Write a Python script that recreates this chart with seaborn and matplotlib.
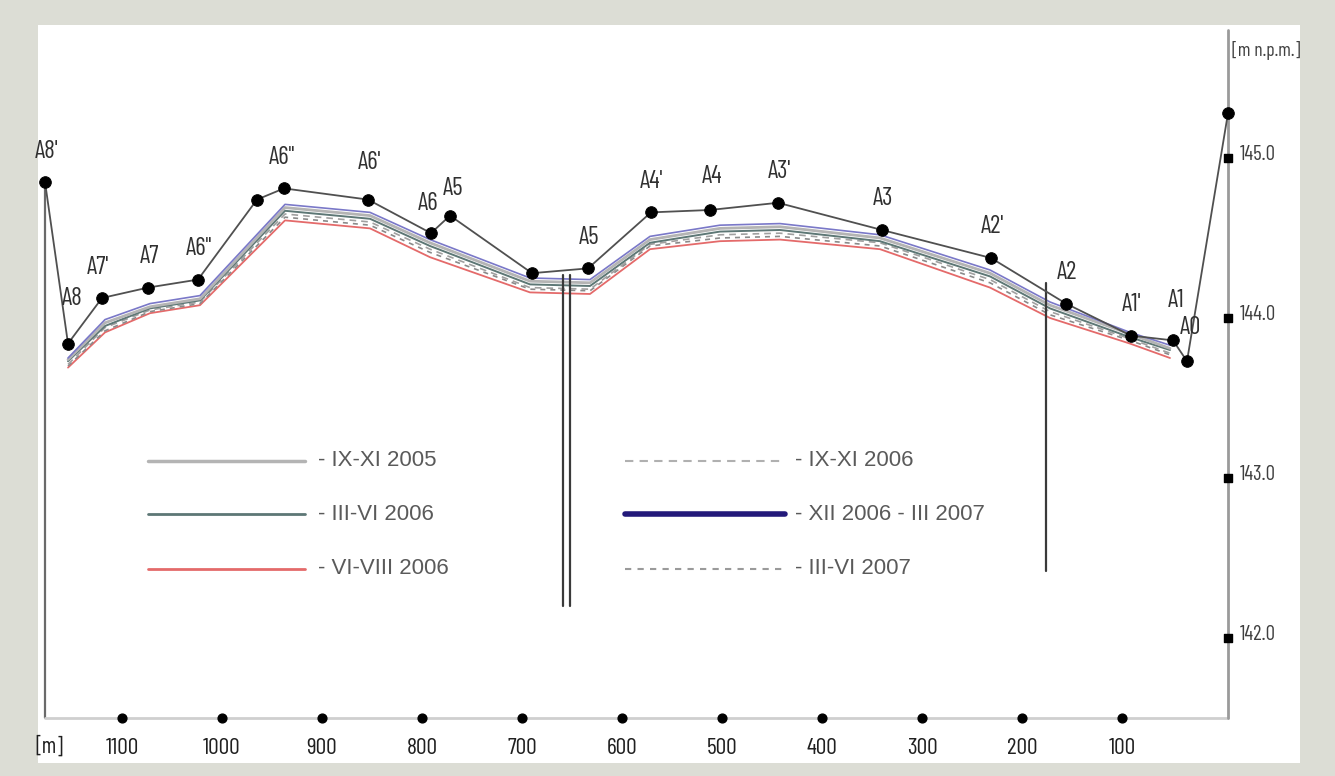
import numpy as np
import pandas as pd
import matplotlib
matplotlib.use("Agg")
import matplotlib.pyplot as plt
import seaborn as sns

# ---------------- data ----------------
# ground / survey profile (distance [m], elevation [m n.p.m.])
profile_dist = [1177, 1154, 1120, 1074, 1024, 965, 938, 854, 791, 772, 690, 634,
                571, 512, 444, 340, 231, 156, 91, 49, 35, -6]
profile_elev = [144.85, 143.84, 144.125, 144.19, 144.24, 144.74, 144.81, 144.74,
                144.53, 144.64, 144.28, 144.31, 144.66, 144.675, 144.72, 144.55,
                144.375, 144.09, 143.89, 143.86, 143.73, 145.28]
profile_labels = ["A8'", "A8", "A7'", "A7", 'A6"', "", 'A6"', "A6'", "A6", "A5", "",
                  "A5", "A4'", "A4", "A3'", "A3", "A2'", "A2", "A1'", "A1", "A0", ""]

# groundwater table series
gw_dist = [1154, 1117, 1072, 1022, 937, 852, 792, 692, 632, 572, 502, 442, 342,
           232, 172, 92, 52]
gw_ix_xi_2005 = [143.74, 143.97, 144.07, 144.12, 144.69, 144.64, 144.47, 144.23,
                 144.22, 144.49, 144.56, 144.57, 144.50, 144.28, 144.08, 143.90, 143.81]
gw_iii_vi_2006 = [143.73, 143.95, 144.06, 144.11, 144.67, 144.62, 144.45, 144.21,
                  144.20, 144.47, 144.54, 144.55, 144.48, 144.26, 144.06, 143.88, 143.80]
gw_vi_viii_2006 = [143.69, 143.91, 144.03, 144.08, 144.61, 144.56, 144.38, 144.16,
                   144.15, 144.43, 144.48, 144.49, 144.43, 144.19, 144.00, 143.84, 143.75]
gw_ix_xi_2006 = [143.71, 143.94, 144.05, 144.10, 144.65, 144.60, 144.43, 144.19,
                 144.18, 144.46, 144.52, 144.53, 144.47, 144.24, 144.04, 143.87, 143.78]
gw_xii_2006_iii_2007 = [143.75, 143.99, 144.09, 144.14, 144.71, 144.66, 144.49, 144.25,
                        144.24, 144.51, 144.58, 144.59, 144.52, 144.30, 144.10, 143.91, 143.83]
gw_iii_vi_2007 = [143.70, 143.92, 144.04, 144.09, 144.63, 144.58, 144.41, 144.18,
                  144.17, 144.45, 144.50, 144.51, 144.45, 144.22, 144.02, 143.86, 143.77]

series_names = ["IX-XI 2005", "III-VI 2006", "VI-VIII 2006",
                "IX-XI 2006", "XII 2006 - III 2007", "III-VI 2007"]
series_values = [gw_ix_xi_2005, gw_iii_vi_2006, gw_vi_viii_2006,
                 gw_ix_xi_2006, gw_xii_2006_iii_2007, gw_iii_vi_2007]

# wells (vertical lines)
well_dist = [659, 652, 176]
well_top = [144.27, 144.27, 144.22]
well_bottom = [142.2, 142.2, 142.42]

# axes
x_ticks = [1100, 1000, 900, 800, 700, 600, 500, 400, 300, 200, 100]
y_ticks = [145.0, 144.0, 143.0, 142.0]
y_tick_labels = ["145.0", "144.0", "143.0", "142.0"]
x_axis_left = 1177
x_axis_right = -6
y_base = 141.5
y_axis_top = 145.8

# ---------------- styles ----------------
styles = {
    "IX-XI 2005": dict(color="#b4b4b4", lw=2.0, ls="-"),
    "III-VI 2006": dict(color="#5d7775", lw=1.4, ls="-"),
    "VI-VIII 2006": dict(color="#e46a6a", lw=1.3, ls="-"),
    "IX-XI 2006": dict(color="#a0a0a0", lw=1.2, ls=(0, (4, 3))),
    "XII 2006 - III 2007": dict(color="#7a78c8", lw=1.2, ls="-"),
    "III-VI 2007": dict(color="#8a8a8a", lw=1.2, ls=(0, (3, 3))),
}
legend_styles = {
    "IX-XI 2005": dict(color="#b4b4b4", lw=2.5, ls="-"),
    "III-VI 2006": dict(color="#5d7775", lw=2.0, ls="-"),
    "VI-VIII 2006": dict(color="#e46a6a", lw=2.0, ls="-"),
    "IX-XI 2006": dict(color="#b0b0b0", lw=1.5, ls=(0, (4, 3))),
    "XII 2006 - III 2007": dict(color="#23197a", lw=4.0, ls="-"),
    "III-VI 2007": dict(color="#9a9a9a", lw=1.5, ls=(0, (3, 3))),
}

sns.set_style("white")
narrow = ["Barlow Condensed", "Archivo Narrow", "DejaVu Sans"]
plt.rcParams["font.family"] = ["Liberation Sans", "DejaVu Sans"]

W, H = 1335, 776
fig = plt.figure(figsize=(W / 100, H / 100), dpi=100, facecolor="#dcddd5")
# white panel
ax = fig.add_axes([38 / W, (H - 763) / H, (1300 - 38) / W, (763 - 25) / H])
ax.set_facecolor("white")
ax.set_xlim(1184, -78)
ax.set_ylim(141.219, 145.831)
for s in ax.spines.values():
    s.set_visible(False)
ax.set_xticks([])
ax.set_yticks([])

# groundwater lines
long = pd.DataFrame({
    "dist": np.tile(gw_dist, len(series_names)),
    "elev": np.concatenate(series_values),
    "series": np.repeat(series_names, len(gw_dist)),
})
draw_order = ["VI-VIII 2006", "III-VI 2007", "IX-XI 2006", "III-VI 2006",
              "IX-XI 2005", "XII 2006 - III 2007"]
for name in draw_order:
    st = styles[name]
    sub = long[long["series"] == name]
    sns.lineplot(data=sub, x="dist", y="elev", sort=False, ax=ax, color=st["color"],
                 lw=st["lw"], linestyle=st["ls"], legend=False, zorder=3)

# axis lines
ax.plot([x_axis_left, x_axis_left], [y_base, profile_elev[0]], color="#6a6a6a", lw=1.6, zorder=2)
ax.plot([x_axis_left, x_axis_right], [y_base, y_base], color="#cfcfcf", lw=2.0, zorder=2)
ax.plot([x_axis_right, x_axis_right], [y_base, y_axis_top], color="#9a9a9a", lw=2.0, zorder=2)

# wells
for d, t, b in zip(well_dist, well_top, well_bottom):
    ax.plot([d, d], [b, t], color="#3a3a3a", lw=1.6, zorder=4)

# profile
prof = pd.DataFrame({"dist": profile_dist, "elev": profile_elev})
sns.lineplot(data=prof, x="dist", y="elev", sort=False, ax=ax, color="#505050",
             lw=1.3, legend=False, zorder=5)
sns.scatterplot(data=prof, x="dist", y="elev", ax=ax, color="black", s=70,
                edgecolor="black", legend=False, zorder=6)

label_offsets = {0: (2, 30), 1: (4, 45), 2: (-4, 30), 8: (-3, 30), 9: (3, 27),
                 6: (-2, 31), 7: (2, 37), 13: (2, 33), 19: (3, 40), 20: (3, 34)}
for i, (d, h, lab) in enumerate(zip(profile_dist, profile_elev, profile_labels)):
    if not lab:
        continue
    dx, dy = label_offsets.get(i, (1, 31))
    ax.annotate(lab, (d, h), xytext=(dx, dy), textcoords="offset pixels",
                ha="center", va="center", fontsize=18, family=narrow,
                color="#303030", zorder=7)

# bottom ticks
ax.scatter(x_ticks, [y_base] * len(x_ticks), marker="o", s=40, color="black", zorder=6)
for t in x_ticks:
    ax.text(t, 141.31, f"{t}", ha="center", va="center", fontsize=17,
            family=narrow, color="#202020")
ax.text(x_axis_left - 4, 141.32, "[m]", ha="center", va="center", fontsize=16,
        family=narrow, color="#202020")

# right ticks
ax.scatter([x_axis_right] * len(y_ticks), y_ticks, marker="s", s=30, color="black", zorder=6)
for v, lab in zip(y_ticks, y_tick_labels):
    ax.text(x_axis_right - 12, v + 0.02, lab, ha="left", va="center", fontsize=15,
            family=narrow, color="#404040")
ax.text(x_axis_right - 4, 145.67, "[m n.p.m.]", ha="left", va="center", fontsize=14,
        family=narrow, color="#404040")

# legend (manual, two columns)
def fx(px):
    return (px - 38) / (1300 - 38)

def fy(py):
    return (763 - py) / (763 - 25)

cols = [(148, 305, 318), (625, 785, 795)]
rows = [461, 514, 569]
for k, name in enumerate(series_names):
    c = cols[k // 3]
    r = rows[k % 3]
    st = legend_styles[name]
    ax.plot([fx(c[0]), fx(c[1])], [fy(r), fy(r)], transform=ax.transAxes,
            color=st["color"], lw=st["lw"], linestyle=st["ls"])
    ax.text(fx(c[2]), fy(r), "- " + name, transform=ax.transAxes, ha="left",
            va="center", fontsize=16, color="#5a5a5a")

fig.savefig("out.png", dpi=100, facecolor=fig.get_facecolor())
